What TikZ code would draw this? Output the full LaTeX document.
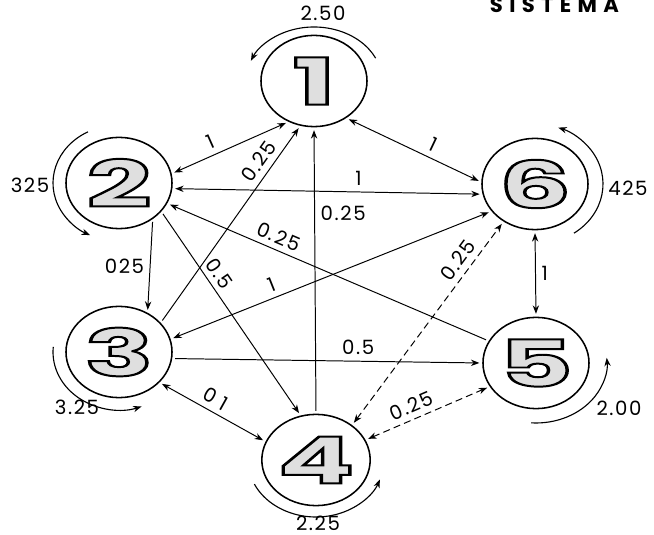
\documentclass[tikz,border=0pt]{standalone}
\usepackage{fontspec}
\setmainfont{Poppins}
\usepackage{graphicx}
\usetikzlibrary{shapes.geometric,arrows.meta}
\newfontfamily\titlefont[LetterSpace=30]{Poppins}
\newfontfamily\labfont[LetterSpace=8]{Poppins}
\newcommand\lab{\labfont\fontsize{14}{16}\selectfont}
% cifra grande con contorno negro y relleno gris
\newcommand\bignum[1]{\scalebox{1.75}[1]{\fontsize{46}{46}\selectfont\bfseries\color{gray!25}\special{pdf:literal direct 0 G 1.4 w 2 Tr}#1\special{pdf:literal direct 0 Tr}}}

\begin{document}
\begin{tikzpicture}[x=0.025cm,y=0.025cm,>={Stealth[length=6pt,width=4.5pt]},
  state/.style={ellipse,draw,line width=1.1pt,minimum width=2.65cm,minimum height=2.28cm,inner sep=0pt},
  wt/.style={font=\lab,inner sep=4pt},
  selfloop/.style={->,line width=0.8pt},
  guion/.style={dash pattern=on 5pt off 3pt},
  every edge/.style={draw,line width=0.7pt,shorten <=2pt,shorten >=2pt}]
\useasboundingbox (0,0) rectangle (654,535);
\node[font=\titlefont\fontsize{15}{15}\selectfont\bfseries,anchor=west] (title) at (485,530) {SISTEMA};
\node[state] (1) at (314,454) {\bignum{1}};
\node[state] (2) at (119,352) {\bignum{2}};
\node[state] (3) at (119,183) {\bignum{3}};
\node[state] (4) at (316,75) {\bignum{4}};
\node[state] (5) at (536,172) {\bignum{5}};
\node[state] (6) at (535,351) {\bignum{6}};
% lazos
\draw[selfloop] (1.center) ++(25:68 and 54) arc[start angle=25,end angle=158,x radius=68,y radius=54];
\draw[selfloop] (2.center) ++(118:66 and 58) arc[start angle=118,end angle=244,x radius=66,y radius=58];
\draw[selfloop] (3.center) ++(175:66 and 58) arc[start angle=175,end angle=290,x radius=66,y radius=58];
\draw[selfloop] (4.center) ++(205:68 and 57) arc[start angle=205,end angle=340,x radius=68,y radius=57];
\draw[selfloop] (5.center) ++(266:71 and 60) arc[start angle=266,end angle=365,x radius=71,y radius=60];
\draw[selfloop] (6.center) ++(-55:68 and 60) arc[start angle=-55,end angle=70,x radius=68,y radius=60];
\node[wt] (l1) at (323,522) {2.50};
\node[wt] (l2) at (30,350) {325};
\node[wt] (l3) at (77,128) {3.25};
\node[wt] (l4) at (318,12) {2.25};
\node[wt] (l5) at (619,127) {2.00};
\node[wt] (l6) at (628,347) {425};
\path
(2.10) edge[<->] node[wt,sloped,above,pos=.38] {1} (1.238)
(3.35) edge[->] node[wt,sloped,above,pos=.78] {0.25} (1.253)
(4.90) edge[->] node[wt,right,pos=.7] {0.25} (1.270)
(1.311) edge[<->] node[wt,sloped,above,pos=.6] {1} (6.178)
(2.354) edge[<->] node[wt,above,pos=.6] {1} (6.191)
(2.337) edge[<-] node[wt,sloped,above,pos=.33] {0.25} (5.155)
(2.313) edge[->] node[wt,left] {025} (3.54)
(2.326) edge[->] node[wt,sloped,above,pos=.34] {0.5} (4.109)
(3.14) edge[<->] node[wt,sloped,above,pos=.33] {1} (6.212)
(3.353) edge[->] node[wt,above,pos=.6] {0.5} (5.180)
(3.323) edge[<->] node[wt,sloped,above,pos=.47] {0 1} (4.160)
(4.44) edge[<->,guion] node[wt,sloped,above,pos=.77] {0.25} (6.230)
(4.22) edge[<->,guion] node[wt,sloped,above,pos=.41] {0.25} (5.207)
(5.90) edge[<->] node[wt,right] {1} (6.270)
;
\end{tikzpicture}
\end{document}
